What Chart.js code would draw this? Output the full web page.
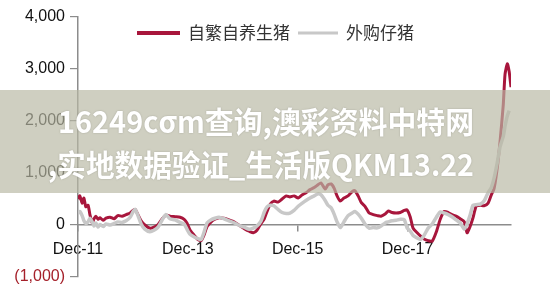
<!DOCTYPE html>
<html>
<head>
<meta charset="utf-8">
<script src="https://cdn.jsdelivr.net/npm/chart.js@4/dist/chart.umd.min.js"></script>
<style>
  html, body { margin: 0; padding: 0; background: #fff; }
  #wrap { width: 550px; height: 284px; position: relative; }
</style>
</head>
<body>
<div id="wrap"><canvas id="c"></canvas></div>
<script>
// Hog farming profit per head (yuan), sampled roughly every two weeks.
// x = months elapsed since Dec-2011
const monthsSinceDec11 = [
  0, 0.4, 0.9, 1.3, 1.7, 2.2, 2.6, 3.1, 3.5, 3.9, 4.4, 4.8, 5.5, 6.1, 7.0, 7.9, 8.7, 9.6,
  10.5, 11.4, 12.0, 12.5, 13.1, 13.8, 14.6, 15.7, 16.6, 17.5, 18.4, 19.2, 20.1, 21.2, 22.3,
  23.2, 23.8, 24.5, 25.4, 26.2, 26.9, 27.5, 28.2, 29.1, 29.9, 30.8, 31.9, 33.0, 33.9, 34.8,
  35.6, 36.5, 37.4, 38.3, 39.1, 40.0, 40.7, 41.3, 42.0, 42.8, 43.7, 44.6, 45.5, 46.3, 47.2,
  48.1, 49.0, 49.8, 50.7, 51.6, 52.5, 53.1, 54.0, 54.6, 55.3, 56.0, 56.6, 57.3, 58.1, 59.0,
  59.9, 60.5, 61.2, 61.9, 62.7, 63.6, 64.5, 65.4, 66.2, 67.1, 67.8, 68.6, 69.5, 70.4, 71.3,
  71.9, 72.6, 73.2, 74.1, 74.8, 75.6, 76.5, 77.4, 78.3, 79.1, 80.0, 80.9, 81.7, 82.6, 83.5,
  84.4, 85.0, 85.7, 86.3, 87.0, 87.9, 88.7, 89.6, 90.3, 90.9, 91.6, 92.2, 92.9, 93.3, 93.8,
  94.2, 94.6
];

// 自繁自养生猪
const selfBred = [
  500, 560, 420, 520, 350, 380, 200, 40, 120, 170, 110, 140, 90, 130, 150, 120, 180, 170,
  200, 230, 280, 300, 200, 80, 0, -60, -40, 10, 120, 190, 170, 160, 150,
  110, 40, -100, -200, -280, -300, -200, -30, 60, 110, 140, 130, 100, 70, 20,
  -30, -80, -120, -150, -100, 30, 120, 260, 400, 460, 440, 500, 560, 540, 560,
  520, 580, 620, 680, 720, 780, 810, 690, 770, 790, 700, 560, 460, 520, 560,
  640, 660, 560, 430, 360, 230, 200, 180, 170, 210, 270, 240, 230, 240, 280,
  290, 150, -60, -150, -210, -270, -300, -310, -130, 100, 260, 240, 200, 170, 120,
  60, -150, -20, 140, 360, 380, 370, 420, 580, 700, 1100, 1600, 2300, 2900, 3100,
  2950, 2650
];

// 外购仔猪
const boughtPiglets = [
  230, 260, 180, 80, 30, 60, 130, 60, -20, 40, -40, 10, -30, 20, 0, 30, 60, 50,
  80, 150, 250, 300, 180, 20, -80, -130, -100, -40, 100, 200, 120, 100, 50,
  20, -80, -180, -230, -260, -280, -150, 40, 100, 130, 150, 120, 80, 50, 10,
  -20, -50, -80, -60, -20, 80, 250, 350, 380, 370, 300, 240, 220, 230, 280,
  360, 420, 470, 520, 560, 600, 580, 470, 380, 330, 200, 60, -50, 60, 180,
  230, 260, 210, 130, 20, -60, -50, -55, -20, 40, 60, 80, 90, 110,
  100, -55, -120, -200, -250, -280, -200, -60, 20, 150, 250, 230, 200, 160, 100,
  40, -80, 20, 200, 380, 390, 400, 460, 620, 720, 900, 1200, 1500, 1700, 1900,
  2100, 2200
];

const seriesNames = ['自繁自养生猪', '外购仔猪'];
const tickMonths = [0, 24, 48, 72];
const tickLabels = ['Dec-11', 'Dec-13', 'Dec-15', 'Dec-17'];
const yTicks = [-1000, 0, 1000, 2000, 3000, 4000];

const bannerLines = ['16249cσm查询,澳彩资料中特网', ',实地数据验证_生活版QKM13.22'];

const toPoints = vals => vals.map((v, i) => ({ x: monthsSinceDec11[i], y: v }));

const RED = 'rgb(168,22,60)';
const GREY = 'rgb(200,200,200)';
const NEG_RED = 'rgb(165,32,42)';

const fmt = n => Math.abs(n).toLocaleString('en-US');

// legend drawn inside the plot, line swatch + label per series
const inlineLegend = {
  id: 'inlineLegend',
  afterDatasetsDraw(chart) {
    const ctx = chart.ctx;
    const y = 33;
    const items = [
      { x0: 137, x1: 180, w: 4 },
      { x0: 298, x1: 338, w: 3 }
    ];
    ctx.save();
    ctx.font = '17px "Noto Sans CJK SC", sans-serif';
    ctx.textBaseline = 'middle';
    ctx.textAlign = 'left';
    chart.data.datasets.forEach((ds, i) => {
      const it = items[i];
      ctx.strokeStyle = ds.borderColor;
      ctx.lineWidth = it.w;
      ctx.beginPath();
      ctx.moveTo(it.x0, y);
      ctx.lineTo(it.x1, y);
      ctx.stroke();
      ctx.fillStyle = '#333';
      ctx.fillText(ds.label, it.x1 + 8, y);
    });
    ctx.restore();
  }
};

// translucent banner across the middle of the chart
const bannerPlugin = {
  id: 'banner',
  afterDraw(chart) {
    const ctx = chart.ctx;
    ctx.save();
    ctx.fillStyle = 'rgba(184,184,163,0.68)';
    ctx.fillRect(0, 90, chart.width, 103);
    ctx.font = 'bold 30px "Noto Sans CJK SC", "Noto Sans", sans-serif';
    ctx.textBaseline = 'middle';
    ctx.textAlign = 'left';
    ctx.fillStyle = '#ffffff';
    ctx.shadowColor = 'rgba(90,90,80,0.35)';
    ctx.shadowBlur = 2;
    ctx.fillText(bannerLines[0], 58, 122, 416);
    ctx.fillText(bannerLines[1], 48, 165, 426);
    ctx.restore();
  }
};

new Chart(document.getElementById('c'), {
  type: 'line',
  data: {
    datasets: [
      {
        label: seriesNames[0],
        data: toPoints(selfBred),
        borderColor: RED,
        backgroundColor: RED,
        borderWidth: 3,
        pointRadius: 0,
        tension: 0.2,
        order: 1
      },
      {
        label: seriesNames[1],
        data: toPoints(boughtPiglets),
        borderColor: GREY,
        backgroundColor: GREY,
        borderWidth: 3.5,
        pointRadius: 0,
        tension: 0.2,
        order: 0
      }
    ]
  },
  options: {
    responsive: true,
    maintainAspectRatio: false,
    animation: false,
    layout: { padding: { top: 17, right: 39, bottom: 7, left: 0 } },
    plugins: {
      tooltip: { enabled: false },
      legend: { display: false }
    },
    scales: {
      x: {
        type: 'linear',
        position: { y: 0 },
        min: 0,
        max: monthsSinceDec11[monthsSinceDec11.length - 1],
        afterBuildTicks: s => { s.ticks = tickMonths.map(v => ({ value: v })); },
        grid: { drawOnChartArea: false, drawTicks: true, tickLength: 6, color: '#8c8c8c', lineWidth: 1.5 },
        border: { display: true, color: '#8c8c8c', width: 1.5 },
        ticks: {
          padding: 9,
          maxRotation: 0,
          autoSkip: false,
          color: '#111',
          font: { family: '"Liberation Sans", Arial, sans-serif', size: 16 },
          callback: v => tickLabels[tickMonths.indexOf(v)]
        }
      },
      y: {
        min: -1000,
        max: 4000,
        afterBuildTicks: s => { s.ticks = yTicks.map(v => ({ value: v })); },
        afterFit: s => { s.width = 78; },
        grid: { drawOnChartArea: false, drawTicks: true, tickLength: 8, color: '#8c8c8c', lineWidth: 1.2 },
        border: { display: true, color: '#8c8c8c', width: 1.5 },
        ticks: {
          padding: 5,
          color: c => (c.tick && c.tick.value < 0 ? NEG_RED : '#111'),
          font: { family: '"Liberation Sans", Arial, sans-serif', size: 16, lineHeight: 0.01 },
          callback: v => (v < 0 ? '(' + fmt(v) + ')' : fmt(v))
        }
      }
    }
  },
  plugins: [inlineLegend, bannerPlugin]
});
</script>
</body>
</html>
